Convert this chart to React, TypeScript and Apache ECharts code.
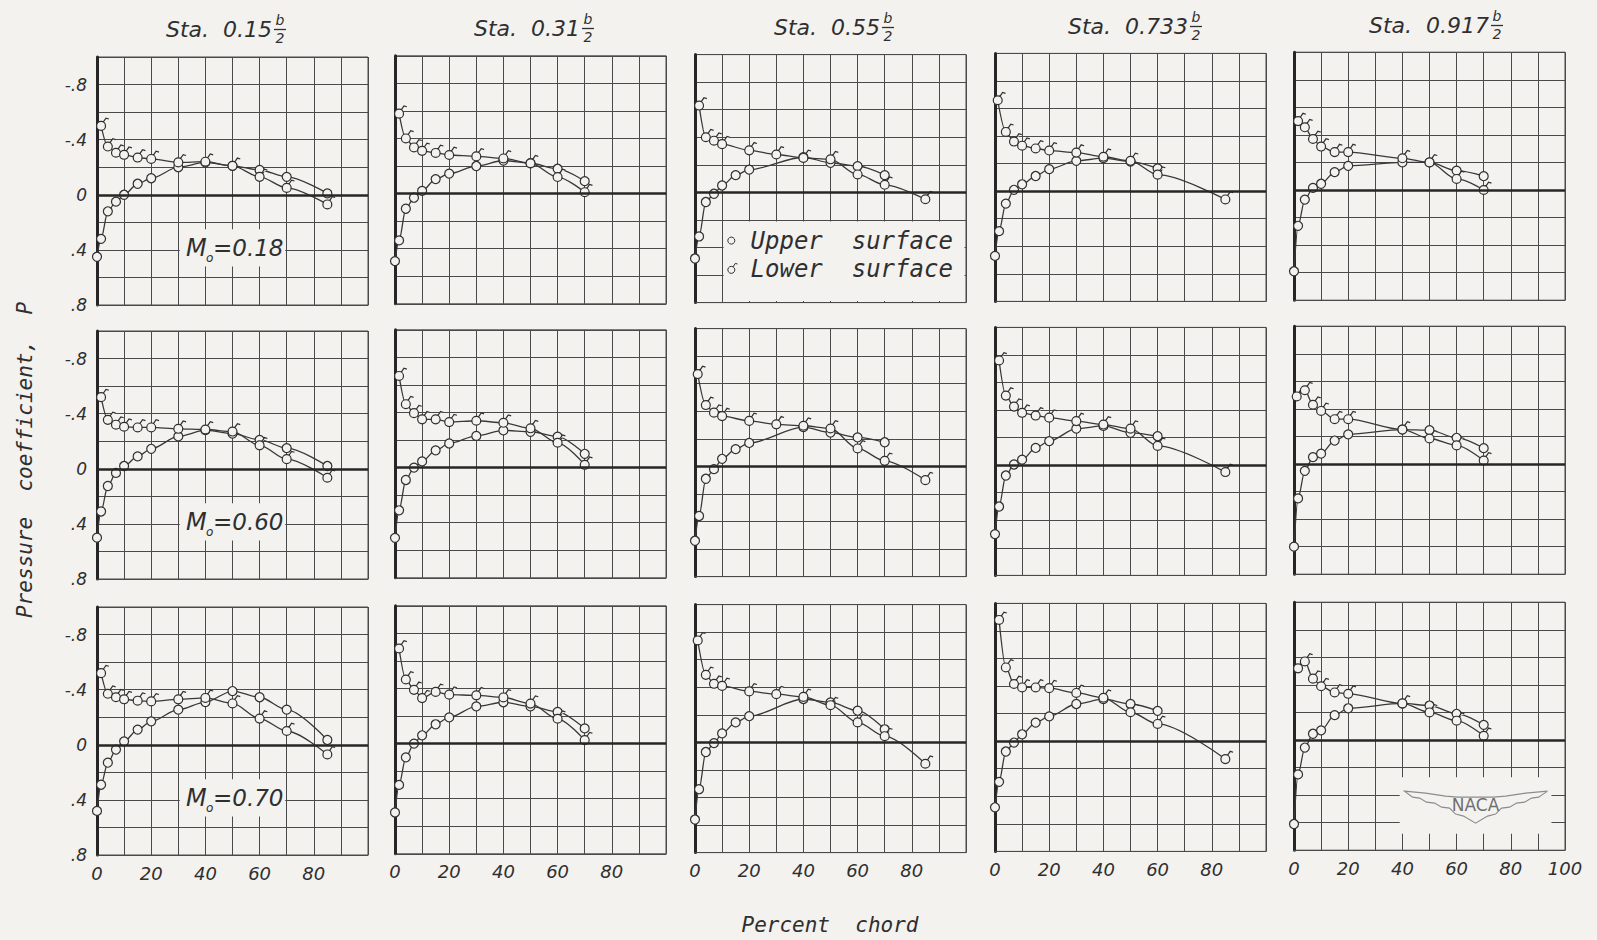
import React, { useEffect, useRef } from 'react';
import * as echarts from 'echarts';

// ---------- text / labels ----------
const stations = ['0.15', '0.31', '0.55', '0.733', '0.917'];
const machNumbers = ['0.18', '0.60', '0.70'];
const xTitle = 'Percent  chord';
const yTitle = 'Pressure  coefficient,  P';
const legendUpper = 'Upper  surface';
const legendLower = 'Lower  surface';

// ---------- data: percent chord (x) and pressure coefficient P ----------
// Row 1 (M0 = 0.18)
const upperX_r1c1 = [0, 1.5, 4, 7, 10, 15, 20, 30, 40, 50, 60, 70, 85];
const upperP_r1c1 = [0.45, 0.32, 0.12, 0.05, 0.0, -0.08, -0.12, -0.2, -0.235, -0.21, -0.18, -0.13, -0.01];
const lowerX_r1c1 = [1.5, 4, 7, 10, 15, 20, 30, 40, 50, 60, 70, 85];
const lowerP_r1c1 = [-0.5, -0.35, -0.305, -0.29, -0.27, -0.26, -0.235, -0.24, -0.21, -0.13, -0.05, 0.07];

const upperX_r1c2 = [0, 1.5, 4, 7, 10, 15, 20, 30, 40, 50, 60, 70];
const upperP_r1c2 = [0.49, 0.34, 0.11, 0.03, -0.02, -0.105, -0.145, -0.2, -0.24, -0.22, -0.18, -0.09];
const lowerX_r1c2 = [1.5, 4, 7, 10, 15, 20, 30, 40, 50, 60, 70];
const lowerP_r1c2 = [-0.58, -0.4, -0.335, -0.31, -0.295, -0.28, -0.27, -0.255, -0.22, -0.12, -0.01];

const upperX_r1c3 = [0, 1.5, 4, 7, 10, 15, 20, 40, 50, 60, 70];
const upperP_r1c3 = [0.48, 0.32, 0.07, 0.01, -0.05, -0.125, -0.165, -0.255, -0.215, -0.19, -0.125];
const lowerX_r1c3 = [1.5, 4, 7, 10, 20, 30, 40, 50, 60, 70, 85];
const lowerP_r1c3 = [-0.63, -0.4, -0.375, -0.35, -0.305, -0.275, -0.25, -0.24, -0.13, -0.055, 0.05];

const upperX_r1c4 = [0, 1.5, 4, 7, 10, 15, 20, 30, 40, 50, 60];
const upperP_r1c4 = [0.47, 0.29, 0.09, -0.01, -0.05, -0.11, -0.16, -0.22, -0.24, -0.215, -0.165];
const lowerX_r1c4 = [1, 4, 7, 10, 15, 20, 30, 40, 50, 60, 85];
const lowerP_r1c4 = [-0.66, -0.43, -0.36, -0.33, -0.31, -0.295, -0.28, -0.25, -0.22, -0.12, 0.06];

const upperX_r1c5 = [0, 1.5, 4, 7, 10, 15, 20, 40, 50, 60, 70];
const upperP_r1c5 = [0.59, 0.26, 0.07, -0.015, -0.045, -0.13, -0.175, -0.2, -0.2, -0.14, -0.1];
const lowerX_r1c5 = [1.5, 4, 7, 10, 15, 20, 40, 50, 60, 70];
const lowerP_r1c5 = [-0.5, -0.455, -0.37, -0.315, -0.275, -0.275, -0.23, -0.2, -0.08, 0.0];

// Row 2 (M0 = 0.60)
const upperX_r2c1 = [0, 1.5, 4, 7, 10, 15, 20, 30, 40, 50, 60, 70, 85];
const upperP_r2c1 = [0.5, 0.31, 0.125, 0.03, -0.02, -0.09, -0.145, -0.235, -0.28, -0.255, -0.21, -0.15, -0.02];
const lowerX_r2c1 = [1.5, 4, 7, 10, 15, 20, 30, 40, 50, 60, 70, 85];
const lowerP_r2c1 = [-0.52, -0.355, -0.32, -0.305, -0.3, -0.3, -0.29, -0.285, -0.27, -0.17, -0.07, 0.065];

const upperX_r2c2 = [0, 1.5, 4, 7, 10, 15, 20, 30, 40, 50, 60, 70];
const upperP_r2c2 = [0.51, 0.31, 0.09, 0.0, -0.045, -0.125, -0.175, -0.23, -0.27, -0.26, -0.225, -0.1];
const lowerX_r2c2 = [1.5, 4, 7, 10, 15, 20, 30, 40, 50, 60, 70];
const lowerP_r2c2 = [-0.665, -0.46, -0.395, -0.35, -0.35, -0.33, -0.34, -0.325, -0.285, -0.18, -0.02];

const upperX_r2c3 = [0, 1.5, 4, 7, 10, 15, 20, 40, 50, 60, 70];
const upperP_r2c3 = [0.54, 0.36, 0.09, 0.02, -0.055, -0.125, -0.17, -0.285, -0.245, -0.21, -0.175];
const lowerX_r2c3 = [1, 4, 7, 10, 20, 30, 40, 50, 60, 70, 85];
const lowerP_r2c3 = [-0.67, -0.445, -0.39, -0.365, -0.33, -0.305, -0.295, -0.275, -0.13, -0.04, 0.1];

const upperX_r2c4 = [0, 1.5, 4, 7, 10, 15, 20, 30, 40, 50, 60];
const upperP_r2c4 = [0.5, 0.3, 0.075, -0.005, -0.04, -0.125, -0.175, -0.265, -0.285, -0.235, -0.21];
const lowerX_r2c4 = [1.5, 4, 7, 10, 15, 20, 30, 40, 50, 60, 85];
const lowerP_r2c4 = [-0.76, -0.505, -0.425, -0.38, -0.36, -0.345, -0.32, -0.295, -0.265, -0.14, 0.05];

const upperX_r2c5 = [0, 1.5, 4, 7, 10, 15, 20, 40, 50, 60, 70];
const upperP_r2c5 = [0.6, 0.25, 0.05, -0.05, -0.075, -0.17, -0.215, -0.25, -0.245, -0.19, -0.115];
const lowerX_r2c5 = [1, 4, 7, 10, 15, 20, 40, 50, 60, 70];
const lowerP_r2c5 = [-0.49, -0.535, -0.43, -0.385, -0.325, -0.325, -0.25, -0.185, -0.135, -0.025];

// Row 3 (M0 = 0.70)
const upperX_r3c1 = [0, 1.5, 4, 7, 10, 15, 20, 30, 40, 50, 60, 70, 85];
const upperP_r3c1 = [0.48, 0.29, 0.13, 0.035, -0.025, -0.11, -0.17, -0.255, -0.31, -0.39, -0.345, -0.255, -0.035];
const lowerX_r3c1 = [1.5, 4, 7, 10, 15, 20, 30, 40, 50, 60, 70, 85];
const lowerP_r3c1 = [-0.52, -0.37, -0.345, -0.33, -0.32, -0.315, -0.33, -0.34, -0.3, -0.19, -0.1, 0.07];

const upperX_r3c2 = [0, 1.5, 4, 7, 10, 15, 20, 30, 40, 50, 60, 70];
const upperP_r3c2 = [0.5, 0.3, 0.1, 0.0, -0.06, -0.14, -0.19, -0.27, -0.3, -0.27, -0.23, -0.11];
const lowerX_r3c2 = [1.5, 4, 7, 10, 15, 20, 30, 40, 50, 60, 70];
const lowerP_r3c2 = [-0.69, -0.465, -0.39, -0.33, -0.375, -0.355, -0.35, -0.335, -0.29, -0.18, -0.025];

const upperX_r3c3 = [0, 1.5, 4, 7, 10, 15, 20, 40, 50, 60, 70];
const upperP_r3c3 = [0.56, 0.34, 0.07, 0.005, -0.065, -0.145, -0.19, -0.315, -0.29, -0.23, -0.095];
const lowerX_r3c3 = [1, 4, 7, 10, 20, 30, 40, 50, 60, 70, 85];
const lowerP_r3c3 = [-0.74, -0.49, -0.425, -0.41, -0.37, -0.35, -0.33, -0.27, -0.145, -0.045, 0.155];

const upperX_r3c4 = [0, 1.5, 4, 7, 10, 15, 20, 30, 40, 50, 60];
const upperP_r3c4 = [0.48, 0.295, 0.075, 0.01, -0.05, -0.135, -0.18, -0.27, -0.305, -0.27, -0.22];
const lowerX_r3c4 = [1.5, 4, 7, 10, 15, 20, 30, 40, 50, 60, 85];
const lowerP_r3c4 = [-0.88, -0.535, -0.415, -0.39, -0.39, -0.385, -0.35, -0.315, -0.21, -0.125, 0.13];

const upperX_r3c5 = [0, 1.5, 4, 7, 10, 15, 20, 40, 50, 60, 70];
const upperP_r3c5 = [0.61, 0.25, 0.055, -0.045, -0.07, -0.18, -0.23, -0.265, -0.25, -0.19, -0.11];
const lowerX_r3c5 = [1.5, 4, 7, 10, 15, 20, 40, 50, 60, 70];
const lowerP_r3c5 = [-0.52, -0.57, -0.445, -0.39, -0.345, -0.335, -0.265, -0.2, -0.14, -0.03];

const panels: number[][][] = [
  [upperX_r1c1, upperP_r1c1, lowerX_r1c1, lowerP_r1c1],
  [upperX_r1c2, upperP_r1c2, lowerX_r1c2, lowerP_r1c2],
  [upperX_r1c3, upperP_r1c3, lowerX_r1c3, lowerP_r1c3],
  [upperX_r1c4, upperP_r1c4, lowerX_r1c4, lowerP_r1c4],
  [upperX_r1c5, upperP_r1c5, lowerX_r1c5, lowerP_r1c5],
  [upperX_r2c1, upperP_r2c1, lowerX_r2c1, lowerP_r2c1],
  [upperX_r2c2, upperP_r2c2, lowerX_r2c2, lowerP_r2c2],
  [upperX_r2c3, upperP_r2c3, lowerX_r2c3, lowerP_r2c3],
  [upperX_r2c4, upperP_r2c4, lowerX_r2c4, lowerP_r2c4],
  [upperX_r2c5, upperP_r2c5, lowerX_r2c5, lowerP_r2c5],
  [upperX_r3c1, upperP_r3c1, lowerX_r3c1, lowerP_r3c1],
  [upperX_r3c2, upperP_r3c2, lowerX_r3c2, lowerP_r3c2],
  [upperX_r3c3, upperP_r3c3, lowerX_r3c3, lowerP_r3c3],
  [upperX_r3c4, upperP_r3c4, lowerX_r3c4, lowerP_r3c4],
  [upperX_r3c5, upperP_r3c5, lowerX_r3c5, lowerP_r3c5],
];

// ---------- layout & style ----------
const BG = '#f3f2ef';
const INK = '#2f2f2f';
const GRIDC = '#4a4a4a';
const FONT = '"DejaVu Sans", "Liberation Sans", sans-serif';
const MONO = '"DejaVu Sans Mono", "Liberation Mono", monospace';
const COL_LEFT = [97, 395, 695, 995, 1294];
const ROW_TOP = [57, 331, 607];
const TILT = 1.2;
const GW = 271;
const GH = 248;
const X_MIN = 0, X_MAX = 100, P_MIN = -1, P_MAX = 0.8;
const FRAC_X = [280, 588, 888, 1196, 1497];
const LOWER_SYMBOL =
  'path://M-1.8,-1.8M1.8,1.8M1,0A1,1,0,1,1,-1,0A1,1,0,1,1,1,0ZM0.5,-0.87L1.1,-1.75L1.75,-1.55';

function gridRect(r: number, c: number) {
  return { left: COL_LEFT[c], top: ROW_TOP[r] - TILT * c, width: GW, height: GH };
}
function px(r: number, c: number, x: number, p: number): [number, number] {
  const g = gridRect(r, c);
  return [
    g.left + ((x - X_MIN) / (X_MAX - X_MIN)) * g.width,
    g.top + ((p - P_MIN) / (P_MAX - P_MIN)) * g.height,
  ];
}
function yLabel(v: number) {
  const k = Math.round(v * 10);
  if (k === 0) return '0';
  if (k === -8 || k === -4) return '-.' + Math.abs(k);
  if (k === 8 || k === 4) return '.' + k;
  return '';
}

function buildOption() {
  const grid: any[] = [];
  const xAxis: any[] = [];
  const yAxis: any[] = [];
  const series: any[] = [];
  const graphic: any[] = [];
  const textBase = { fill: INK, fontFamily: FONT, fontStyle: 'italic' };

  for (let r = 0; r < 3; r++) {
    for (let c = 0; c < 5; c++) {
      const i = r * 5 + c;
      const g = gridRect(r, c);
      grid.push({
        left: g.left, top: g.top, width: g.width, height: g.height,
        show: true, borderColor: GRIDC, borderWidth: 1, backgroundColor: 'transparent',
      });
      xAxis.push({
        type: 'value', gridIndex: i, min: X_MIN, max: X_MAX, interval: 10,
        axisLine: { show: true, onZero: false, lineStyle: { color: GRIDC, width: 1 } },
        axisTick: { show: false },
        splitLine: { show: true, lineStyle: { color: GRIDC, width: 1 } },
        axisLabel: {
          show: r === 2, margin: 9, color: INK, fontSize: 18, fontStyle: 'italic', fontFamily: FONT,
          formatter: (v: number) => (v % 20 === 0 && (v < 100 || c === 4) ? String(v) : ''),
        },
      });
      yAxis.push({
        type: 'value', gridIndex: i, min: P_MIN, max: P_MAX, interval: 0.2, inverse: true,
        axisLine: { show: true, onZero: false, lineStyle: { color: '#262626', width: 3 } },
        axisTick: { show: false },
        splitLine: { show: true, lineStyle: { color: GRIDC, width: 1 } },
        axisLabel: {
          show: c === 0, margin: 10, color: INK, fontSize: 17, fontStyle: 'italic', fontFamily: FONT,
          formatter: yLabel,
        },
      });
      const [ux, up, lx, lp] = panels[i];
      const common = {
        type: 'line', xAxisIndex: i, yAxisIndex: i, smooth: 0.3, smoothMonotone: 'x',
        showSymbol: true, showAllSymbol: true, silent: true,
        emphasis: { disabled: true },
        lineStyle: { color: '#383838', width: 1.3 },
        itemStyle: { color: BG, borderColor: INK, borderWidth: 1.2 },
      };
      series.push({
        ...common,
        name: 'Upper surface',
        symbol: 'circle', symbolSize: 9,
        data: ux.map((x, k) => [x, up[k]]),
        markLine: {
          silent: true, symbol: ['none', 'none'], label: { show: false },
          lineStyle: { color: '#262626', width: 2.6, type: 'solid' },
          data: [{ yAxis: 0 }],
        },
      });
      series.push({
        ...common,
        name: 'Lower surface',
        symbol: LOWER_SYMBOL, symbolSize: 16,
        data: lx.map((x, k) => [x, lp[k]]),
      });
    }
  }

  // Column titles: "Sta. 0.15 b/2"
  for (let c = 0; c < 5; c++) {
    const fx = FRAC_X[c];
    const dy = -c * 1;
    graphic.push({
      type: 'text', x: fx - 8, y: 29 + dy, z: 50,
      style: { ...textBase, text: `Sta.  ${stations[c]}`, fontSize: 22, align: 'right', verticalAlign: 'middle' },
    });
    graphic.push({
      type: 'text', x: fx, y: 20 + dy, z: 50,
      style: { ...textBase, text: 'b', fontSize: 14, align: 'center', verticalAlign: 'middle' },
    });
    graphic.push({
      type: 'line', z: 50,
      shape: { x1: fx - 6, y1: 29.5 + dy, x2: fx + 6, y2: 29.5 + dy },
      style: { stroke: INK, lineWidth: 1.3 },
    });
    graphic.push({
      type: 'text', x: fx, y: 38 + dy, z: 50,
      style: { ...textBase, text: '2', fontSize: 14, align: 'center', verticalAlign: 'middle' },
    });
  }

  // Mach number labels in first column
  for (let r = 0; r < 3; r++) {
    const [bx0, by0] = px(r, 0, 30, 0.25);
    const [bx1, by1] = px(r, 0, 70, 0.52);
    graphic.push({
      type: 'rect', z: 40,
      shape: { x: bx0 + 1.5, y: by0, width: bx1 - bx0 - 3, height: by1 - by0 },
      style: { fill: BG },
    });
    const g = gridRect(r, 0);
    const ox = g.left + 89;
    const oy = g.top + 191;
    graphic.push({
      type: 'text', x: ox, y: oy, z: 41,
      style: { ...textBase, text: 'M', fontSize: 24, align: 'left', verticalAlign: 'middle' },
    });
    graphic.push({
      type: 'text', x: ox + 20, y: oy + 10, z: 41,
      style: { ...textBase, text: 'o', fontSize: 12, align: 'left', verticalAlign: 'middle' },
    });
    graphic.push({
      type: 'text', x: ox + 27, y: oy, z: 41,
      style: { ...textBase, text: '=' + machNumbers[r], fontSize: 23, align: 'left', verticalAlign: 'middle' },
    });
  }

  // Legend box inside Sta. 0.55, M0 = 0.18 panel
  {
    const [lx0, ly0] = px(0, 2, 10, 0.2);
    const [lx1, ly1] = px(0, 2, 100, 0.8);
    graphic.push({
      type: 'rect', z: 40,
      shape: { x: lx0 + 1.5, y: ly0 + 1.5, width: lx1 - lx0 - 3, height: ly1 - ly0 - 3 },
      style: { fill: BG },
    });
    const [s1x, s1y] = px(0, 2, 13.4, 0.35);
    const [s2x, s2y] = px(0, 2, 13.4, 0.555);
    const [tx] = px(0, 2, 20.5, 0);
    graphic.push({ type: 'circle', z: 41, shape: { cx: s1x, cy: s1y, r: 3.5 }, style: { fill: BG, stroke: INK, lineWidth: 1 } });
    graphic.push({ type: 'circle', z: 41, shape: { cx: s2x, cy: s2y + 1, r: 3.5 }, style: { fill: BG, stroke: INK, lineWidth: 1 } });
    graphic.push({
      type: 'polyline', z: 41,
      shape: { points: [[s2x + 1.8, s2y - 2], [s2x + 4, s2y - 5.5], [s2x + 6.2, s2y - 4.8]] },
      style: { stroke: INK, lineWidth: 1, fill: null },
    });
    graphic.push({
      type: 'text', x: tx, y: s1y, z: 41,
      style: { fill: INK, fontFamily: MONO, fontStyle: 'italic', text: legendUpper, fontSize: 24, align: 'left', verticalAlign: 'middle' },
    });
    graphic.push({
      type: 'text', x: tx, y: s2y, z: 41,
      style: { fill: INK, fontFamily: MONO, fontStyle: 'italic', text: legendLower, fontSize: 24, align: 'left', verticalAlign: 'middle' },
    });
  }

  // NACA emblem in last panel
  {
    const [nx0, ny0] = px(2, 4, 39, 0.27);
    const [nx1, ny1] = px(2, 4, 95, 0.68);
    graphic.push({
      type: 'rect', z: 40,
      shape: { x: nx0, y: ny0, width: nx1 - nx0, height: ny1 - ny0 },
      style: { fill: BG },
    });
    const [cx, cy] = px(2, 4, 67, 0.48);
    const rel = [
      [-71, -15], [-50, -13], [-30, -10], [-18, -9], [18, -9], [30, -10], [50, -13], [72, -15],
      [63, -9], [56, -8], [49, -4], [41, -3], [34, 1], [26, 2], [20, 8], [12, 10], [0, 17],
      [-12, 10], [-20, 8], [-26, 2], [-34, 1], [-41, -3], [-49, -4], [-56, -8], [-63, -9],
    ];
    graphic.push({
      type: 'polygon', z: 41,
      shape: { points: rel.map(([a, b]) => [cx + a, cy + b]) },
      style: { fill: BG, stroke: '#8c8c8c', lineWidth: 1.1 },
    });
    graphic.push({
      type: 'text', x: cx, y: cy - 1, z: 42,
      style: { fill: '#6f6f6f', fontFamily: FONT, text: 'NACA', fontSize: 17, align: 'center', verticalAlign: 'middle' },
    });
  }

  // Axis titles
  graphic.push({
    type: 'text', x: 830, y: 925, z: 50,
    style: { fill: INK, fontFamily: MONO, fontStyle: 'italic', text: xTitle, fontSize: 21, align: 'center', verticalAlign: 'middle' },
  });
  graphic.push({
    type: 'text', x: 25, y: 460, z: 50, rotation: Math.PI / 2,
    style: { fill: INK, fontFamily: MONO, fontStyle: 'italic', text: yTitle, fontSize: 21, align: 'center', verticalAlign: 'middle' },
  });

  return {
    animation: false,
    backgroundColor: BG,
    grid, xAxis, yAxis, series,
    graphic: { elements: graphic },
  };
}

export default function App() {
  const ref = useRef<HTMLDivElement>(null);
  useEffect(() => {
    document.body.style.margin = '0';
    document.body.style.background = BG;
    const chart = echarts.init(ref.current as HTMLDivElement, null, { renderer: 'svg' });
    chart.setOption(buildOption() as any);
    return () => chart.dispose();
  }, []);
  return <div ref={ref} style={{ width: 1597, height: 940 }} />;
}
